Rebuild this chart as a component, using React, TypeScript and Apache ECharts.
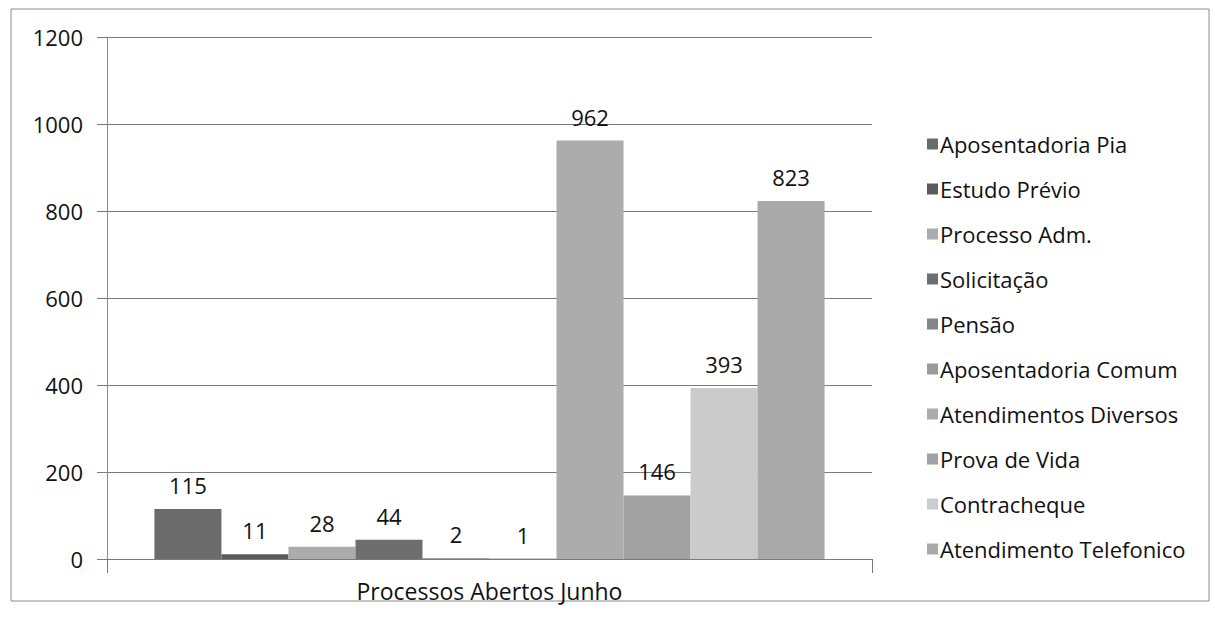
import React, { useEffect, useRef } from "react";
import * as echarts from "echarts";

const categories = ["Processos Abertos Junho"];
const seriesNames = [
  "Aposentadoria Pia",
  "Estudo Prévio",
  "Processo Adm.",
  "Solicitação",
  "Pensão",
  "Aposentadoria Comum",
  "Atendimentos Diversos",
  "Prova de Vida",
  "Contracheque",
  "Atendimento Telefonico",
];
const seriesValues = [115, 11, 28, 44, 2, 1, 962, 146, 393, 823];
const seriesColors = [
  "#6b6b6b",
  "#5a5a5a",
  "#ababab",
  "#6e6e6e",
  "#858585",
  "#9a9a9a",
  "#acacac",
  "#a2a2a2",
  "#cbcbcb",
  "#a9a9a9",
];
const yTicks = [0, 200, 400, 600, 800, 1000, 1200];

const FONT = "'Open Sans', 'Noto Sans', sans-serif";

export default function App() {
  const ref = useRef<HTMLDivElement>(null);
  useEffect(() => {
    if (!ref.current) return;
    const chart = echarts.init(ref.current, undefined, { renderer: "svg" });
    chart.setOption({
      animation: false,
      backgroundColor: "#ffffff",
      textStyle: { fontFamily: FONT },
      graphic: [
        {
          type: "rect",
          shape: { x: 11, y: 9, width: 1198, height: 592 },
          style: { fill: "none", stroke: "#8a8a8a", lineWidth: 1 },
          silent: true,
        },
      ],
      legend: {
        orient: "vertical",
        left: 922,
        top: 128,
        itemWidth: 11,
        itemHeight: 11,
        itemGap: 23,
        icon: "rect",
        data: seriesNames,
        textStyle: {
          fontFamily: FONT,
          fontSize: 22,
          color: "#111",
          lineHeight: 22,
          padding: [0, 0, 0, -3],
        },
      },
      grid: { left: 107, right: 343, top: 37, bottom: 76 },
      xAxis: {
        type: "category",
        data: categories,
        axisLine: { show: true, lineStyle: { color: "#7a7a7a", width: 1 } },
        axisTick: { show: true, length: 14, lineStyle: { color: "#7a7a7a" } },
        axisLabel: { fontFamily: FONT, fontSize: 23, color: "#111", margin: 20 },
      },
      yAxis: {
        type: "value",
        min: 0,
        max: 1200,
        interval: 200,
        axisLine: { show: true, lineStyle: { color: "#8a8a8a", width: 1 } },
        axisTick: { show: true, length: 10, lineStyle: { color: "#7a7a7a" } },
        axisLabel: {
          fontFamily: FONT,
          fontSize: 22,
          color: "#111",
          margin: 24,
          formatter: (v: number) => (yTicks.includes(v) ? String(v) : ""),
        },
        splitLine: { show: true, lineStyle: { color: "#7a7a7a", width: 1 } },
      },
      series: seriesNames.map((name, i) => ({
        name,
        type: "bar",
        data: [seriesValues[i]],
        barGap: "0%",
        barCategoryGap: "12.4%",
        itemStyle: { color: seriesColors[i] },
        label: {
          show: true,
          position: "top",
          distance: 13,
          fontFamily: FONT,
          fontSize: 22,
          color: "#111",
        },
      })),
    });
    return () => chart.dispose();
  }, []);
  return (
    <div
      ref={ref}
      style={{ position: "fixed", left: 0, top: 0, width: 1215, height: 635 }}
    />
  );
}
